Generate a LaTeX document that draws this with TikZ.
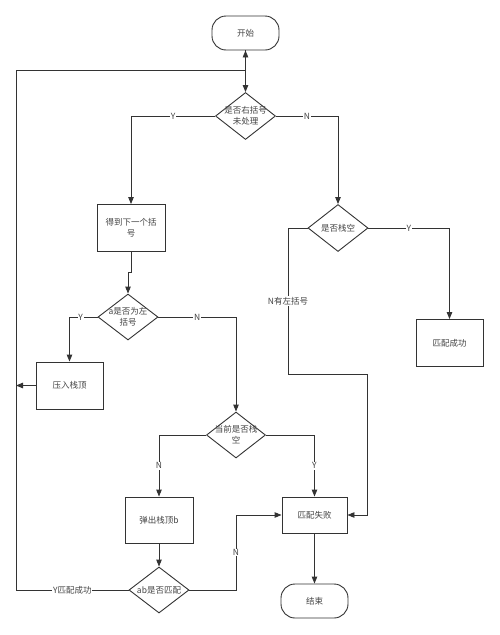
\documentclass[tikz,border=0pt]{standalone}
\usepackage{fontspec}
\setmainfont{Noto Sans CJK SC}
\usetikzlibrary{shapes.geometric,arrows.meta}
\definecolor{ln}{HTML}{333333}
\definecolor{tx}{HTML}{444444}
\begin{document}
\begin{tikzpicture}[x=1pt,y=-1pt,
  every node/.style={font=\fontsize{8.5}{11}\selectfont, text=tx},
  base/.style={draw=ln, line width=0.9pt, inner sep=0pt, align=center},
  term/.style={base, rectangle, rounded corners=14pt, minimum width=67pt, minimum height=34pt},
  proc/.style={base, rectangle, minimum width=68pt, minimum height=47pt},
  dec/.style={base, diamond, minimum width=60pt, minimum height=47pt},
  dtext/.style={align=center, inner sep=0pt},
  arr/.style={draw=ln, line width=0.9pt, -{Triangle[length=7pt,width=5.5pt]}},
  lbl/.style={fill=white, inner sep=0.8pt}
]
\useasboundingbox (0,0) rectangle (500,635);
\fill[white] (0,0) rectangle (500,635);

\node[term] (start) at (245.5,33) {开始};
\node[dec] (d1) at (245.5,116) {};
\node[dtext] (d1t) at (d1) {是否右括号\\未处理};
\node[proc] (get) at (131,228) {得到下一个括\\号};
\node[dec] (d2) at (338,228) {};
\node[dtext] (d2t) at (d2) {是否栈空};
\node[proc, minimum width=67pt] (succ) at (449.5,343) {匹配成功};
\node[dec, minimum height=46pt] (d3) at (128,317) {};
\node[dtext] (d3t) at (d3) {a是否为左\\括号};
\node[proc, minimum width=67pt] (push) at (69.5,385.5) {压入栈顶};
\node[dec, minimum width=59pt, minimum height=46pt] (d4) at (236,435) {};
\node[dtext] (d4t) at (d4) {当前是否栈\\空};
\node[proc, minimum height=46pt] (pop) at (159,520) {弹出栈顶b};
\node[proc, minimum width=65pt, minimum height=36pt] (fail) at (314.5,515) {匹配失败};
\node[dec, minimum height=46pt] (d5) at (159,590) {};
\node[dtext] (d5t) at (d5) {ab是否匹配};
\node[term] (end) at (314.5,601) {结束};

\coordinate (L1) at (16,590);
\coordinate (L2) at (16,70);
\coordinate (n1) at (288,228);
\coordinate (n2) at (288,374);
\coordinate (n3) at (367,374);
\coordinate (n4) at (367,515);
\coordinate (m1) at (236,590);
\coordinate (m2) at (236,515);

\draw[arr] (start) -- (d1);
\draw[arr] (d5.west) -- node[lbl]{Y匹配成功} (L1) -- (L2) -| (start.south);
\draw[arr] (push.west) -- (push.west -| L2);
\draw[arr] (d1.west) -| node[lbl, pos=0.25]{Y} (get.north);
\draw[arr] (d1.east) -| node[lbl, pos=0.25]{N} (d2.north);
\draw[arr] (get.south) -- ++(0,20) -| (d3.north);
\draw[arr] (d3.west) -| node[lbl, pos=0.3]{Y} (push.north);
\draw[arr] (d3.east) -| node[lbl, pos=0.25]{N} (d4.north);
\draw[arr] (d4.west) -| node[lbl, pos=0.75]{N} (pop.north);
\draw[arr] (d4.east) -| node[lbl, pos=0.75]{Y} (fail.north);
\draw[arr] (d2.east) -| node[lbl, pos=0.25]{Y} (succ.north);
\draw[arr] (d2.west) -- (n1) -- node[lbl, pos=0.5]{N有左括号} (n2) -- (n3) -- (n4) -- (fail.east);
\draw[arr] (pop) -- (d5);
\draw[arr] (d5.east) -- (m1) -- node[lbl]{N} (m2) -- (fail.west);
\draw[arr] (fail) -- (end);
\end{tikzpicture}
\end{document}
